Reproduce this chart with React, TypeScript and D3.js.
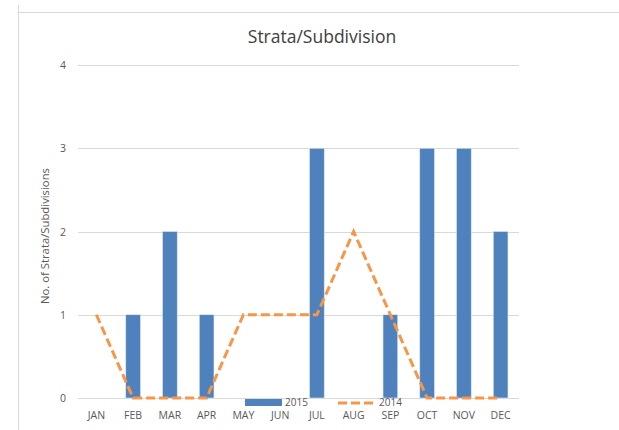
import React, { useRef, useEffect } from 'react';
import * as d3 from 'd3';

const months = ['JAN', 'FEB', 'MAR', 'APR', 'MAY', 'JUN', 'JUL', 'AUG', 'SEP', 'OCT', 'NOV', 'DEC'];
const values2015 = [0, 1, 2, 1, 0, 0, 3, 0, 1, 3, 3, 2];
const values2014 = [1, 0, 0, 0, 1, 1, 1, 2, 1, 0, 0, 0];
const yTicks = [0, 1, 2, 3, 4];

const App = () => {
  const svgRef = useRef<SVGSVGElement>(null);

  useEffect(() => {
    const font = 'Open Sans, sans-serif';
    const svg = d3.select(svgRef.current);
    svg.selectAll('*').remove();

    // chart frame
    svg.append('line').attr('x1', 18.5).attr('x2', 18.5).attr('y1', 5).attr('y2', 430)
      .attr('stroke', '#d9d9d9');
    svg.append('line').attr('x1', 18.5).attr('x2', 619).attr('y1', 12.5).attr('y2', 12.5)
      .attr('stroke', '#d9d9d9');

    const left = 78, right = 519, top = 65, bottom = 398;

    const x = d3.scaleBand().domain(months).range([left, right]).paddingInner(0).paddingOuter(0);
    const y = d3.scaleLinear().domain([0, 4]).range([bottom, top]);

    // gridlines + y labels
    svg.append('g').selectAll('line').data(yTicks).join('line')
      .attr('x1', left).attr('x2', right)
      .attr('y1', d => Math.round(y(d)) + 0.5).attr('y2', d => Math.round(y(d)) + 0.5)
      .attr('stroke', '#d9d9d9');
    svg.append('g').selectAll('text').data(yTicks).join('text')
      .attr('x', 66).attr('y', d => y(d) + 4)
      .attr('text-anchor', 'end')
      .attr('font-family', font).attr('font-size', 10.5).attr('fill', '#595959')
      .text(d => d);

    // bars
    const bw = x.bandwidth() / 2.5;
    svg.append('g').selectAll('rect').data(values2015).join('rect')
      .attr('x', (d, i) => x(months[i])! + (x.bandwidth() - bw) / 2)
      .attr('y', d => y(d))
      .attr('width', bw)
      .attr('height', d => y(0) - y(d))
      .attr('fill', '#4f81bd')
      .attr('stroke', '#dce6f2')
      .attr('stroke-width', d => (d > 0 ? 0.6 : 0));

    // 2014 line
    const line = d3.line<number>()
      .x((d, i) => x(months[i])! + x.bandwidth() / 2)
      .y(d => y(d));
    svg.append('path').datum(values2014)
      .attr('d', line)
      .attr('fill', 'none')
      .attr('stroke', '#f79646')
      .attr('stroke-width', 3)
      .attr('stroke-dasharray', '9,4');

    // x labels
    svg.append('g').selectAll('text').data(months).join('text')
      .attr('x', d => x(d)! + x.bandwidth() / 2).attr('y', 419)
      .attr('text-anchor', 'middle')
      .attr('font-family', font).attr('font-size', 10.5).attr('fill', '#595959')
      .text(d => d);

    // title
    svg.append('text').attr('x', 322).attr('y', 43)
      .attr('text-anchor', 'middle')
      .attr('font-family', font).attr('font-size', 17.5).attr('fill', '#404040')
      .text('Strata/Subdivision');

    // y axis title
    svg.append('text')
      .attr('transform', 'translate(49,236) rotate(-90)')
      .attr('text-anchor', 'middle')
      .attr('font-family', font).attr('font-size', 11.3).attr('fill', '#595959')
      .text('No. of Strata/Subdivisions');

    // legend
    const lg = svg.append('g');
    lg.append('rect').attr('x', 245).attr('y', 399).attr('width', 37).attr('height', 7)
      .attr('fill', '#4f81bd');
    lg.append('text').attr('x', 285).attr('y', 406)
      .attr('font-family', font).attr('font-size', 10).attr('fill', '#595959').text('2015');
    lg.append('line').attr('x1', 338).attr('x2', 375).attr('y1', 403).attr('y2', 403)
      .attr('stroke', '#f79646').attr('stroke-width', 3).attr('stroke-dasharray', '9,4');
    lg.append('text').attr('x', 379).attr('y', 406)
      .attr('font-family', font).attr('font-size', 10).attr('fill', '#595959').text('2014');
  }, []);

  return (
    <svg
      ref={svgRef}
      width={619}
      height={430}
      style={{ position: 'absolute', left: 0, top: 0, background: '#fff' }}
    />
  );
};

export default App;
